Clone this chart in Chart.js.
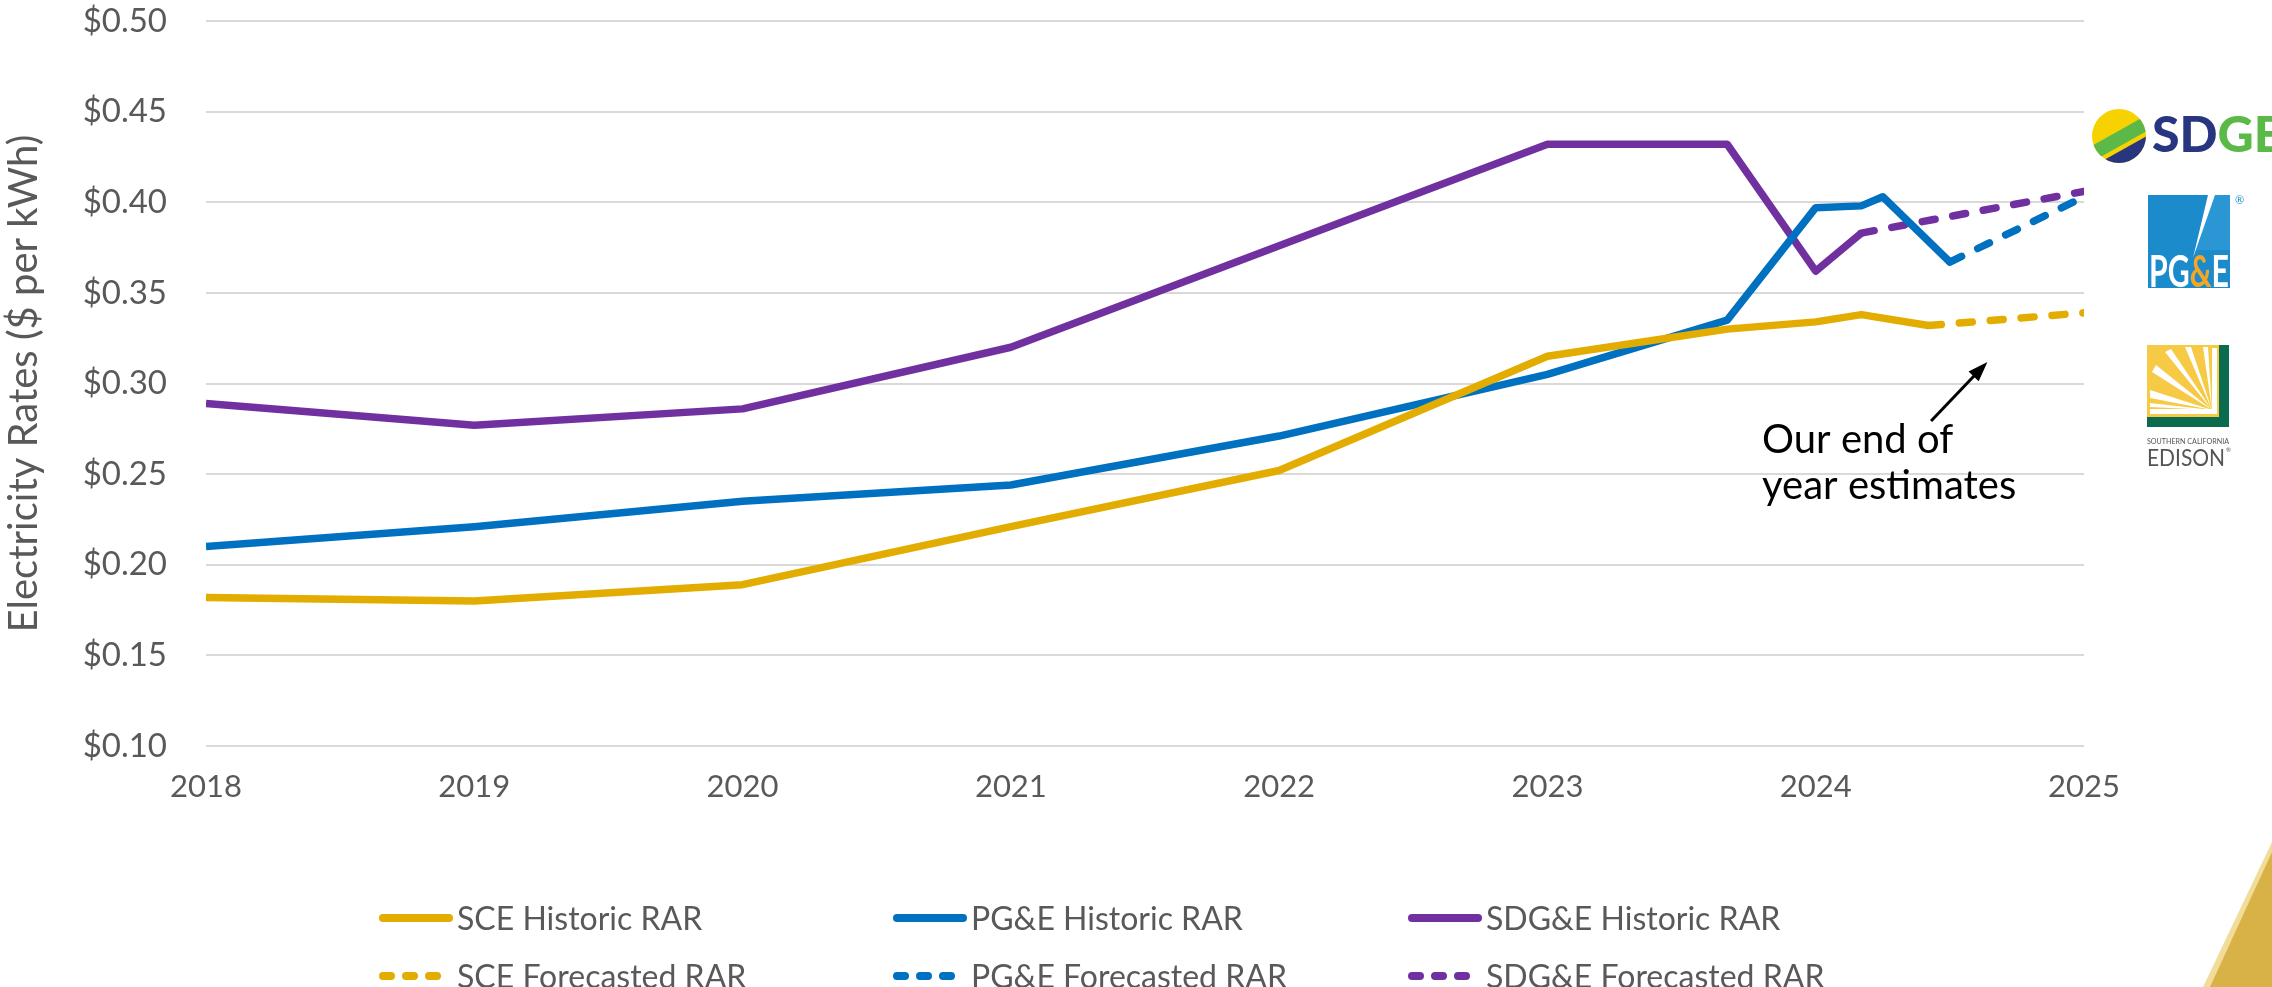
<!DOCTYPE html>
<html>
<head>
<meta charset="utf-8">
<script src="https://cdn.jsdelivr.net/npm/chart.js@4.4.1/dist/chart.umd.min.js"></script>
<style>
  html, body { margin: 0; padding: 0; background: #fff; }
  #wrap { position: relative; width: 2272px; height: 987px; overflow: hidden; font-family: Lato, sans-serif; }
  #chart { position: absolute; left: 0; top: 0; }
  #deco { position: absolute; left: 0; top: 0; pointer-events: none; }
  #legend { position: absolute; left: 379px; top: 893px; display: grid;
            grid-template-columns: 514px 515px 440px; grid-auto-rows: 58px; }
  .item { display: flex; align-items: center; height: 50px; }
  .item span { font-size: 32px; line-height: 32px; color: #595959; margin-left: 4px; white-space: nowrap; }
</style>
</head>
<body>
<div id="wrap">
  <canvas id="chart" width="2272" height="987"></canvas>
  <svg id="deco" width="2272" height="987" viewBox="0 0 2272 987">
    <!-- SDG&E logo -->
    <defs><clipPath id="sd"><circle cx="2119" cy="136" r="27"/></clipPath></defs>
    <g clip-path="url(#sd)">
      <rect x="2088" y="105" width="64" height="64" fill="#F6D300"/>
      <polygon points="2088,148 2152,112 2152,128 2088,164" fill="#5DB947"/>
      <polygon points="2088,169 2152,133 2152,172 2088,172" fill="#283680"/>
    </g>
    <text x="2152" y="152" font-family="Lato" font-weight="900" font-size="50"><tspan fill="#283680">SD</tspan><tspan fill="#5DB947">GE</tspan></text>
    <!-- PG&E logo -->
    <rect x="2148" y="195" width="82" height="93" fill="#1B8BCB"/>
    <polygon points="2214,195 2230,195 2230,250 2196,250" fill="#2A97D4"/>
    <polygon points="2208,195 2215,195 2193,258" fill="#fff"/>
    <text x="2149" y="287" font-family="Lato" font-weight="700" font-size="44" textLength="80" lengthAdjust="spacingAndGlyphs" fill="#fff">PG<tspan fill="#F5A623">&amp;</tspan>E</text>
    <text x="2235" y="204" font-family="Lato" font-size="11" fill="#1B8BCB">®</text>
    <!-- Edison logo -->
    <rect x="2147" y="345" width="82" height="82" fill="#0A6B4F"/>
    <rect x="2147" y="345" width="72" height="72" fill="#F6CA45"/>
    <g fill="#fff">
      <polygon points="2212,410 2150,398 2150,390"/>
      <polygon points="2212,410 2152,372 2156,365"/>
      <polygon points="2212,410 2165,352 2171,349"/>
      <polygon points="2212,410 2185,347 2191,347"/>
      <polygon points="2212,410 2203,347 2208,347"/>
      <polygon points="2212,410 2150,407 2150,403"/>
      <rect x="2150" y="409" width="66" height="5"/>
      <rect x="2212" y="348" width="5" height="66"/>
    </g>
    <text x="2147" y="444" font-family="Lato" font-size="8" textLength="82" lengthAdjust="spacingAndGlyphs" fill="#555">SOUTHERN CALIFORNIA</text>
    <text x="2147" y="466" font-family="Lato" font-size="24" textLength="78" lengthAdjust="spacingAndGlyphs" fill="#555">EDISON</text>
    <text x="2226" y="452" font-family="Lato" font-size="6" fill="#555">®</text>
    <!-- corner decoration -->
    <polygon points="2272,842 2272,987 2203,987" fill="#F1DC9A"/>
    <polygon points="2272,852 2272,987 2210,987" fill="#D9B247"/>
  </svg>
  <div id="legend"></div>
</div>
<script>
// x positions are years (fractions for the 2023-2024 updates)
const sceHistX  = [2018, 2019, 2020, 2021, 2022, 2023, 2023.67, 2024, 2024.17, 2024.42];
const sceHistY  = [0.182, 0.180, 0.189, 0.221, 0.252, 0.315, 0.330, 0.334, 0.338, 0.332];
const sceFcX    = [2024.42, 2025];
const sceFcY    = [0.332, 0.339];

const pgeHistX  = [2018, 2019, 2020, 2021, 2022, 2023, 2023.67, 2024, 2024.17, 2024.25, 2024.5];
const pgeHistY  = [0.210, 0.221, 0.235, 0.244, 0.271, 0.305, 0.335, 0.397, 0.398, 0.403, 0.367];
const pgeFcX    = [2024.5, 2025];
const pgeFcY    = [0.367, 0.403];

const sdgeHistX = [2018, 2019, 2020, 2021, 2022, 2023, 2023.67, 2024, 2024.17];
const sdgeHistY = [0.289, 0.277, 0.286, 0.320, 0.376, 0.432, 0.432, 0.362, 0.383];
const sdgeFcX   = [2024.17, 2025];
const sdgeFcY   = [0.383, 0.406];

const seriesNames = ['SCE Historic RAR', 'PG&E Historic RAR', 'SDG&E Historic RAR',
                     'SCE Forecasted RAR', 'PG&E Forecasted RAR', 'SDG&E Forecasted RAR'];

const SCE = '#E3AC00', PGE = '#0070C0', SDGE = '#7030A0';
const TXT = '#595959';

// annotation "Our end of year estimates"
const noteLines = ['Our end of', 'year estimates'];
const noteAt = [2023.80, 0.2617];
const arrowFrom = [2024.43, 0.2793];
const arrowTo = [2024.64, 0.3119];

// wanted plot box (canvas pixels)
const AREA = { left: 206, top: 21, right: 2084, bottom: 746 };

function pts(xs, ys) {
  return xs.map((x, i) => ({ x: x, y: ys[i] }));
}

function line(label, xs, ys, color, dashed) {
  return {
    label: label,
    data: pts(xs, ys),
    borderColor: color,
    backgroundColor: color,
    borderWidth: 7.5,
    borderDash: dashed ? [13, 18] : [],
    borderCapStyle: dashed ? 'round' : 'butt',
    borderJoinStyle: 'round',
    pointRadius: 0,
    tension: 0,
    fill: false
  };
}

const noteCallout = {
  id: 'noteCallout',
  afterDatasetsDraw(chart) {
    const { ctx, scales: { x, y } } = chart;
    const x1 = x.getPixelForValue(arrowFrom[0]), y1 = y.getPixelForValue(arrowFrom[1]);
    const x2 = x.getPixelForValue(arrowTo[0]), y2 = y.getPixelForValue(arrowTo[1]);
    const ang = Math.atan2(y2 - y1, x2 - x1);
    const head = 20, half = 7;
    ctx.save();
    ctx.strokeStyle = '#000';
    ctx.fillStyle = '#000';
    ctx.lineWidth = 3;
    ctx.beginPath();
    ctx.moveTo(x1, y1);
    ctx.lineTo(x2 - Math.cos(ang) * head * 0.8, y2 - Math.sin(ang) * head * 0.8);
    ctx.stroke();
    ctx.beginPath();
    ctx.moveTo(x2, y2);
    ctx.lineTo(x2 - Math.cos(ang) * head - Math.sin(ang) * half, y2 - Math.sin(ang) * head + Math.cos(ang) * half);
    ctx.lineTo(x2 - Math.cos(ang) * head + Math.sin(ang) * half, y2 - Math.sin(ang) * head - Math.cos(ang) * half);
    ctx.closePath();
    ctx.fill();
    ctx.font = '40px Lato';
    ctx.textBaseline = 'alphabetic';
    ctx.textAlign = 'left';
    const tx = x.getPixelForValue(noteAt[0]), ty = y.getPixelForValue(noteAt[1]);
    noteLines.forEach((t, i) => ctx.fillText(t, tx, ty + i * 46));
    ctx.restore();
  }
};

const chart = new Chart(document.getElementById('chart'), {
  type: 'line',
  data: {
    datasets: [
      line(seriesNames[0], sceHistX, sceHistY, SCE, false),
      line(seriesNames[1], pgeHistX, pgeHistY, PGE, false),
      line(seriesNames[2], sdgeHistX, sdgeHistY, SDGE, false),
      line(seriesNames[3], sceFcX, sceFcY, SCE, true),
      line(seriesNames[4], pgeFcX, pgeFcY, PGE, true),
      line(seriesNames[5], sdgeFcX, sdgeFcY, SDGE, true)
    ]
  },
  options: {
    responsive: false,
    animation: false,
    layout: { padding: { left: 0, right: 2272 - AREA.right, top: AREA.top, bottom: 987 - AREA.bottom - 70 } },
    plugins: { legend: { display: false }, tooltip: { enabled: false } },
    scales: {
      x: {
        type: 'linear', min: 2018, max: 2025,
        grid: { display: false, drawTicks: false },
        border: { display: false },
        ticks: { stepSize: 1, padding: 22, color: TXT, font: { family: 'Lato', size: 31 },
                 callback: v => String(v) },
        afterFit(s) { s.height = 70; s.paddingLeft = 0; s.paddingRight = 0; }
      },
      y: {
        min: 0.1, max: 0.5,
        grid: { color: '#D9D9D9', lineWidth: 2, drawTicks: false },
        border: { display: false },
        ticks: { stepSize: 0.05, padding: 39, color: TXT, font: { family: 'Lato', size: 33 },
                 callback: v => '$' + Number(v).toFixed(2) },
        title: { display: true, text: 'Electricity Rates ($ per kWh)', color: TXT,
                 font: { family: 'Lato', size: 40 }, padding: { top: 0, bottom: 0 } },
        afterFit(s) { s.width = AREA.left; s.paddingTop = 0; s.paddingBottom = 0; }
      }
    }
  },
  plugins: [noteCallout]
});

// nudge layout padding so the plot box lands where the reference has it
const pad = chart.options.layout.padding;
pad.top += AREA.top - chart.chartArea.top;
pad.bottom += chart.chartArea.bottom - AREA.bottom;
chart.update();

// legend built from the chart's datasets, laid out in three columns
const legendEl = document.getElementById('legend');
chart.data.datasets.forEach(ds => {
  const item = document.createElement('div');
  item.className = 'item';
  const dashed = ds.borderDash.length > 0;
  item.innerHTML =
    '<svg width="74" height="12"><line x1="4" y1="6" x2="70" y2="6" stroke="' + ds.borderColor +
    '" stroke-width="8" stroke-linecap="round"' + (dashed ? ' stroke-dasharray="8 15"' : '') + '/></svg>' +
    '<span></span>';
  item.querySelector('span').textContent = ds.label;
  legendEl.appendChild(item);
});
</script>
</body>
</html>
